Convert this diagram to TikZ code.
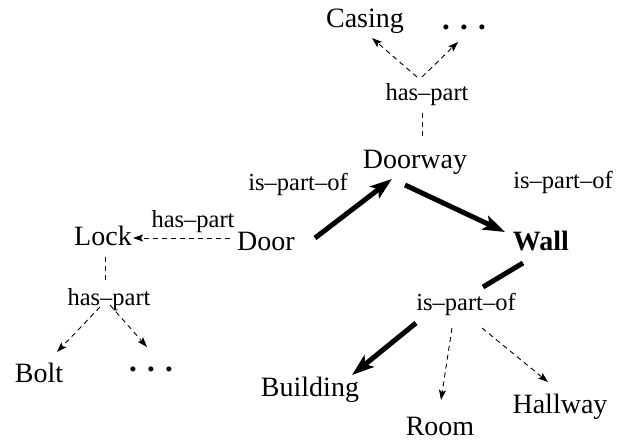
\documentclass[tikz,border=0pt]{standalone}
\usepackage{fontspec}
\setmainfont{Liberation Serif}
\usetikzlibrary{arrows.meta}
\begin{document}
\begin{tikzpicture}[x=1pt,y=-1pt,
  concept/.style={anchor=base,inner sep=0pt,font=\fontsize{28}{30}\selectfont},
  dotsnode/.style={anchor=base,inner sep=0pt,font=\fontsize{31}{33}\selectfont\bfseries},
  rel/.style={anchor=base,inner sep=0pt,font=\fontsize{24.5}{26}\selectfont},
  strong/.style={line width=5pt,-{Stealth[length=22pt,width=15pt,inset=5pt]}},
  strongline/.style={line width=5pt},
  weak/.style={line width=0.9pt,dash pattern=on 5pt off 4pt,-{Stealth[length=10pt,width=7pt,inset=2pt]}},
  weakline/.style={line width=0.9pt,dash pattern=on 5pt off 4pt}]
\useasboundingbox (0,0) rectangle (624,441);
% nodes
\node[concept] (casing) at (365,28) {Casing};
\node[dotsnode] (dots1) at (464,30) {. . .};
\node[rel] (hp1) at (427,101) {has–part};
\node[concept] (doorway) at (415,168) {Doorway};
\node[rel] (ipo1) at (298,190) {is–part–of};
\node[rel] (ipo2) at (563,189) {is–part–of};
\node[concept] (door) at (266,250) {Door};
\node[concept] (lock) at (103,245) {Lock};
\node[rel] (hp2) at (193,227) {has–part};
\node[concept] (wall) at (541,250) {\textbf{Wall}};
\node[rel] (hp3) at (109,305) {has–part};
\node[rel] (ipo3) at (466,310) {is–part–of};
\node[concept] (bolt) at (39,382) {Bolt};
\node[dotsnode] (dots3) at (151,371) {. . .};
\node[concept] (building) at (310,396) {Building};
\node[concept] (room) at (440,435) {Room};
\node[concept] (hallway) at (560,413) {Hallway};
% connectors
\draw[strong] ([shift={(49,-12)}]door.base) -- ([shift={(-23,11)}]doorway.base);
\draw[strong] ([shift={(-10,17)}]doorway.base) -- ([shift={(-36,-18)}]wall.base);
\draw[strongline] ([shift={(-18,13)}]wall.base) -- ([shift={(17,-23)}]ipo3.base);
\draw[strong] ([shift={(-50,13)}]ipo3.base) -- ([shift={(42,-21)}]building.base);
\draw[weak] ([shift={(-14,18)}]ipo3.base) -- ([shift={(1,-35)}]room.base);
\draw[weak] ([shift={(16,18)}]ipo3.base) -- ([shift={(-12,-31)}]hallway.base);
\draw[weakline] ([shift={(-5,12)}]hp1.base) -- ([shift={(7,-31)}]doorway.base);
\draw[weak] ([shift={(-10,-24)}]hp1.base) -- ([shift={(7,10)}]casing.base);
\draw[weak] ([shift={(-5,-24)}]hp1.base) -- ([shift={(-6,12)}]dots1.base);
\draw[weak] ([shift={(-36,-12)}]door.base) -- ([shift={(30,-7)}]lock.base);
\draw[weakline] ([shift={(2,12)}]lock.base) -- ([shift={(-4,-25)}]hp3.base);
\draw[weak] ([shift={(-9,2)}]hp3.base) -- ([shift={(18,-30)}]bolt.base);
\draw[weak] ([shift={(1,0)}]hp3.base) -- ([shift={(-4,-24)}]dots3.base);
\end{tikzpicture}
\end{document}
